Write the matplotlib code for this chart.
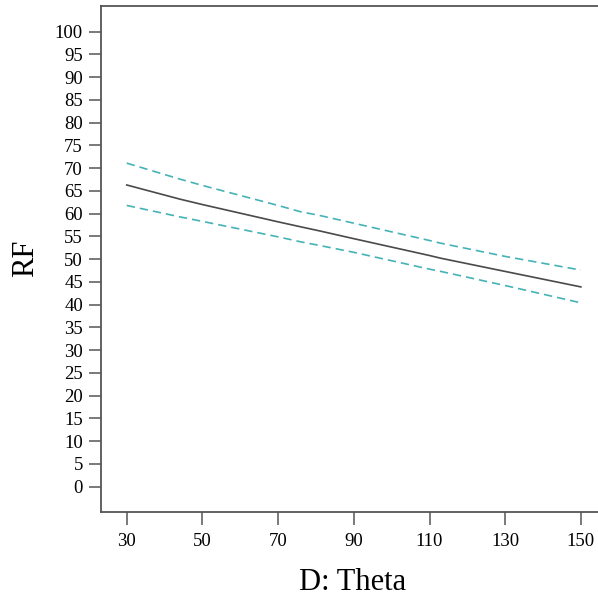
import matplotlib
matplotlib.use("Agg")
import matplotlib.pyplot as plt

# Data
theta = [30, 44, 50, 70, 76, 81, 90, 110, 113, 130, 150]
rf_mean = [66.3, 63.2, 62.0, 58.2, 57.1, 56.2, 54.5, 50.8, 50.2, 47.3, 43.9]
rf_upper = [71.1, 67.6, 66.2, 61.8, 60.4, 59.6, 57.9, 54.1, 53.5, 50.6, 47.6]
rf_lower = [61.8, 59.3, 58.3, 54.9, 53.8, 53.0, 51.5, 47.8, 47.3, 44.2, 40.4]

x_ticks = [30, 50, 70, 90, 110, 130, 150]
y_ticks = list(range(0, 101, 5))

plt.rcParams['font.family'] = ['Liberation Serif', 'DejaVu Serif']

fig = plt.figure(figsize=(5.98, 5.98), dpi=100)
ax = fig.add_axes([101/598, (598-511.7)/598, 502.6/598, 506/598])

ax.plot(theta, rf_mean, color='#4a4a4a', lw=1.2)
ax.plot(theta, rf_upper, color='#45b3b5', lw=1.2, ls=(0, (5, 3)))
ax.plot(theta, rf_lower, color='#45b3b5', lw=1.2, ls=(0, (5, 3)))

ax.set_xlim(23.2, 156)
ax.set_ylim(-5.5, 105.7)
ax.set_xticks(x_ticks)
ax.set_yticks(y_ticks)
ax.tick_params(axis='both', direction='out', length=9, width=1.1, color='#555555',
               labelsize=13.5)
ax.tick_params(axis='x', pad=6.5)
ax.tick_params(axis='y', pad=4)

for side in ['right']:
    ax.spines[side].set_visible(False)
for side in ['left', 'bottom', 'top']:
    ax.spines[side].set_color('#555555')
    ax.spines[side].set_linewidth(1.3)

ax.set_xlabel('D: Theta', fontsize=22)
ax.set_ylabel('RF', fontsize=22)
ax.xaxis.set_label_coords(0.5, -0.139)
ax.xaxis.label.set_va('center')
ax.yaxis.set_label_coords(-0.151, 0.5)
ax.yaxis.label.set_va('center')

fig.savefig('out.png', dpi=100)
